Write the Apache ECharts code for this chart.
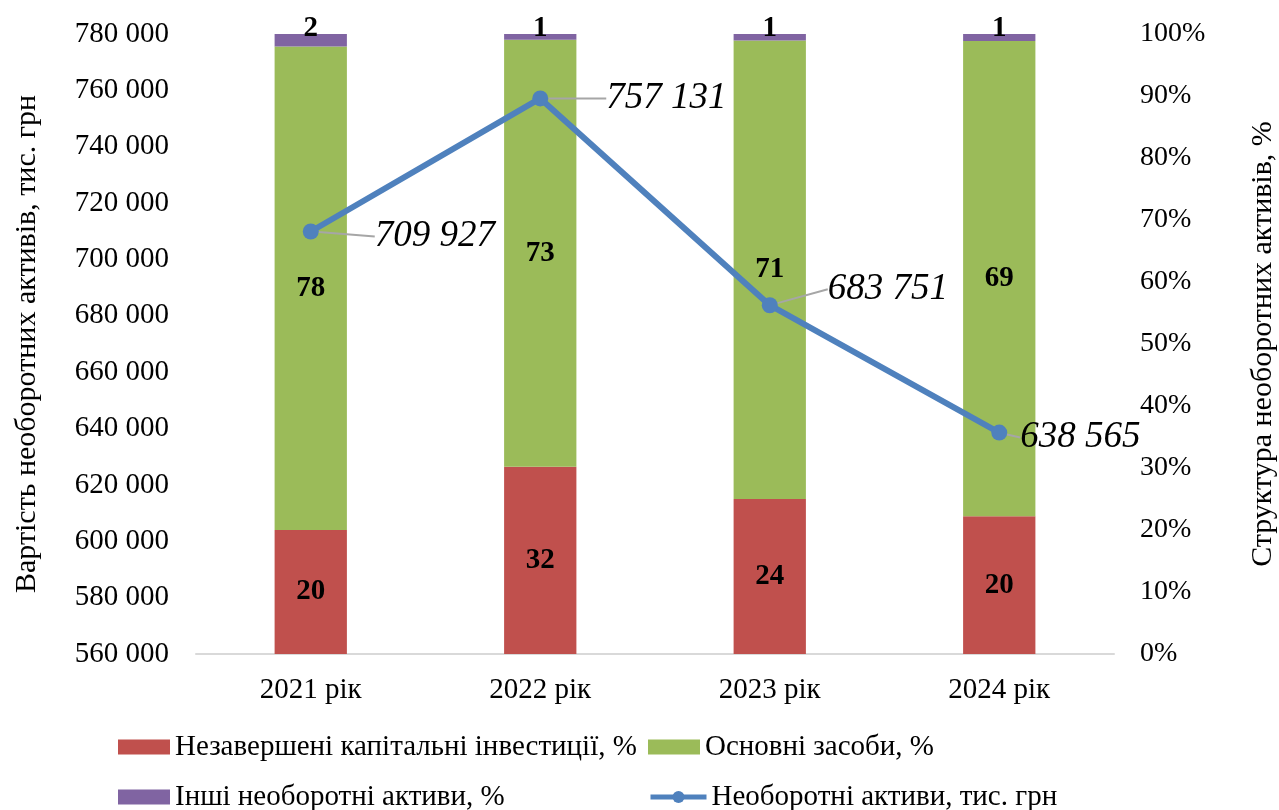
<!DOCTYPE html>
<html>
<head>
<meta charset="utf-8">
<script src="https://cdn.jsdelivr.net/npm/echarts@6/dist/echarts.min.js"></script>
<style>
html,body{margin:0;padding:0;background:#fff;}
#chart{width:1279px;height:810px;}
</style>
</head>
<body>
<div id="chart"></div>
<script>
// ---- data ----
const categories = ['2021 рік', '2022 рік', '2023 рік', '2024 рік'];
const unfinishedInvest = [20, 32, 24, 20];   // Незавершені капітальні інвестиції, %
const fixedAssets = [78, 73, 71, 69];        // Основні засоби, %
const otherAssets = [2, 1, 1, 1];            // Інші необоротні активи, %
const nonCurrentAssets = [709927, 757131, 683751, 638565]; // тис. грн
const leftTicks = { min: 560000, max: 780000, step: 20000 };
const rightTicks = { min: 0, max: 100, step: 10 };

const seriesNames = [
  'Незавершені капітальні інвестиції, %',
  'Основні засоби, %',
  'Інші необоротні активи, %',
  'Необоротні активи, тис. грн'
];

// 100% stacked: each bar shown as its share of the category total, labelled with raw values
const totals = categories.map((_, i) => unfinishedInvest[i] + fixedAssets[i] + otherAssets[i]);
const share = arr => arr.map((v, i) => ({ value: v / totals[i] * 100, raw: v }));

const FONT = '"Liberation Serif", "Times New Roman", serif';
const fmtThousands = v => String(v).replace(/\B(?=(\d{3})+(?!\d))/g, ' ');

const chart = echarts.init(document.getElementById('chart'), null, { renderer: 'canvas' });

const barLabel = {
  show: true,
  position: 'inside',
  fontFamily: FONT,
  fontSize: 29,
  fontWeight: 'bold',
  color: '#000',
  formatter: p => p.data.raw
};

const lineLabelOffsets = [[51, 5], [53, 0], [45, -16], [8, 5]];

const legendBase = {
  orient: 'horizontal',
  itemWidth: 52,
  itemHeight: 15,
  padding: 0,
  textStyle: { fontFamily: FONT, fontSize: 29, color: '#000', lineHeight: 32 },
  lineStyle: { width: 5 }
};
const mkLegend = (name, left, top, extra) =>
  Object.assign({}, legendBase, { left: left, top: top, data: [name] }, extra || {});

const option = {
  backgroundColor: '#fff',
  animation: false,
  grid: { left: 196, right: 165, top: 34, bottom: 156, containLabel: false, outerBoundsMode: 'none' },
  legend: [
    mkLegend({ name: seriesNames[0], icon: 'rect' }, 118, 731),
    mkLegend({ name: seriesNames[1], icon: 'rect' }, 648, 731),
    mkLegend({ name: seriesNames[2], icon: 'rect' }, 118, 781),
    mkLegend(seriesNames[3], 648, 781, { itemWidth: 56 })
  ],
  xAxis: {
    type: 'category',
    data: categories,
    axisLine: { show: true, lineStyle: { color: '#D9D9D9', width: 2 } },
    axisTick: { show: false },
    axisLabel: { fontFamily: FONT, fontSize: 29, color: '#000', margin: 22 }
  },
  yAxis: [
    {
      type: 'value',
      min: leftTicks.min,
      max: leftTicks.max,
      interval: leftTicks.step,
      name: 'Вартість необоротних активів, тис. грн',
      nameLocation: 'middle',
      nameGap: 154,
      nameRotate: 90,
      nameTextStyle: { fontFamily: FONT, fontSize: 30, color: '#000' },
      axisLine: { show: false },
      axisTick: { show: false },
      splitLine: { show: false },
      axisLabel: { fontFamily: FONT, fontSize: 29, color: '#000', margin: 27, formatter: fmtThousands }
    },
    {
      type: 'value',
      min: rightTicks.min,
      max: rightTicks.max,
      interval: rightTicks.step,
      position: 'right',
      name: 'Структура необоротних активів, %',
      nameLocation: 'middle',
      nameGap: 134,
      nameRotate: 90,
      nameTextStyle: { fontFamily: FONT, fontSize: 30, color: '#000' },
      axisLine: { show: false },
      axisTick: { show: false },
      splitLine: { show: false },
      axisLabel: { fontFamily: FONT, fontSize: 28, color: '#000', margin: 26, formatter: '{value}%' }
    }
  ],
  series: [
    {
      name: seriesNames[0],
      type: 'bar',
      yAxisIndex: 1,
      stack: 'share',
      barWidth: '31.5%',
      itemStyle: { color: '#C0504D' },
      label: barLabel,
      data: share(unfinishedInvest)
    },
    {
      name: seriesNames[1],
      type: 'bar',
      yAxisIndex: 1,
      stack: 'share',
      barWidth: '31.5%',
      itemStyle: { color: '#9BBB59' },
      label: barLabel,
      data: share(fixedAssets)
    },
    {
      name: seriesNames[2],
      type: 'bar',
      yAxisIndex: 1,
      stack: 'share',
      barWidth: '31.5%',
      itemStyle: { color: '#8064A2' },
      label: Object.assign({}, barLabel, { position: 'top', distance: -9 }),
      data: share(otherAssets)
    },
    {
      name: seriesNames[3],
      type: 'line',
      yAxisIndex: 0,
      z: 10,
      symbol: 'circle',
      symbolSize: 16,
      lineStyle: { color: '#4F81BD', width: 6 },
      itemStyle: { color: '#4F81BD' },
      label: {
        show: true,
        position: 'right',
        distance: 5,
        fontFamily: FONT,
        fontSize: 37,
        fontStyle: 'italic',
        color: '#000',
        formatter: p => fmtThousands(p.value)
      },
      labelLine: { show: true, lineStyle: { color: '#A6A6A6', width: 2 } },
      labelLayout: p => ({ dx: lineLabelOffsets[p.dataIndex][0], dy: lineLabelOffsets[p.dataIndex][1] }),
      data: nonCurrentAssets
    }
  ]
};

chart.setOption(option);
</script>
</body>
</html>
